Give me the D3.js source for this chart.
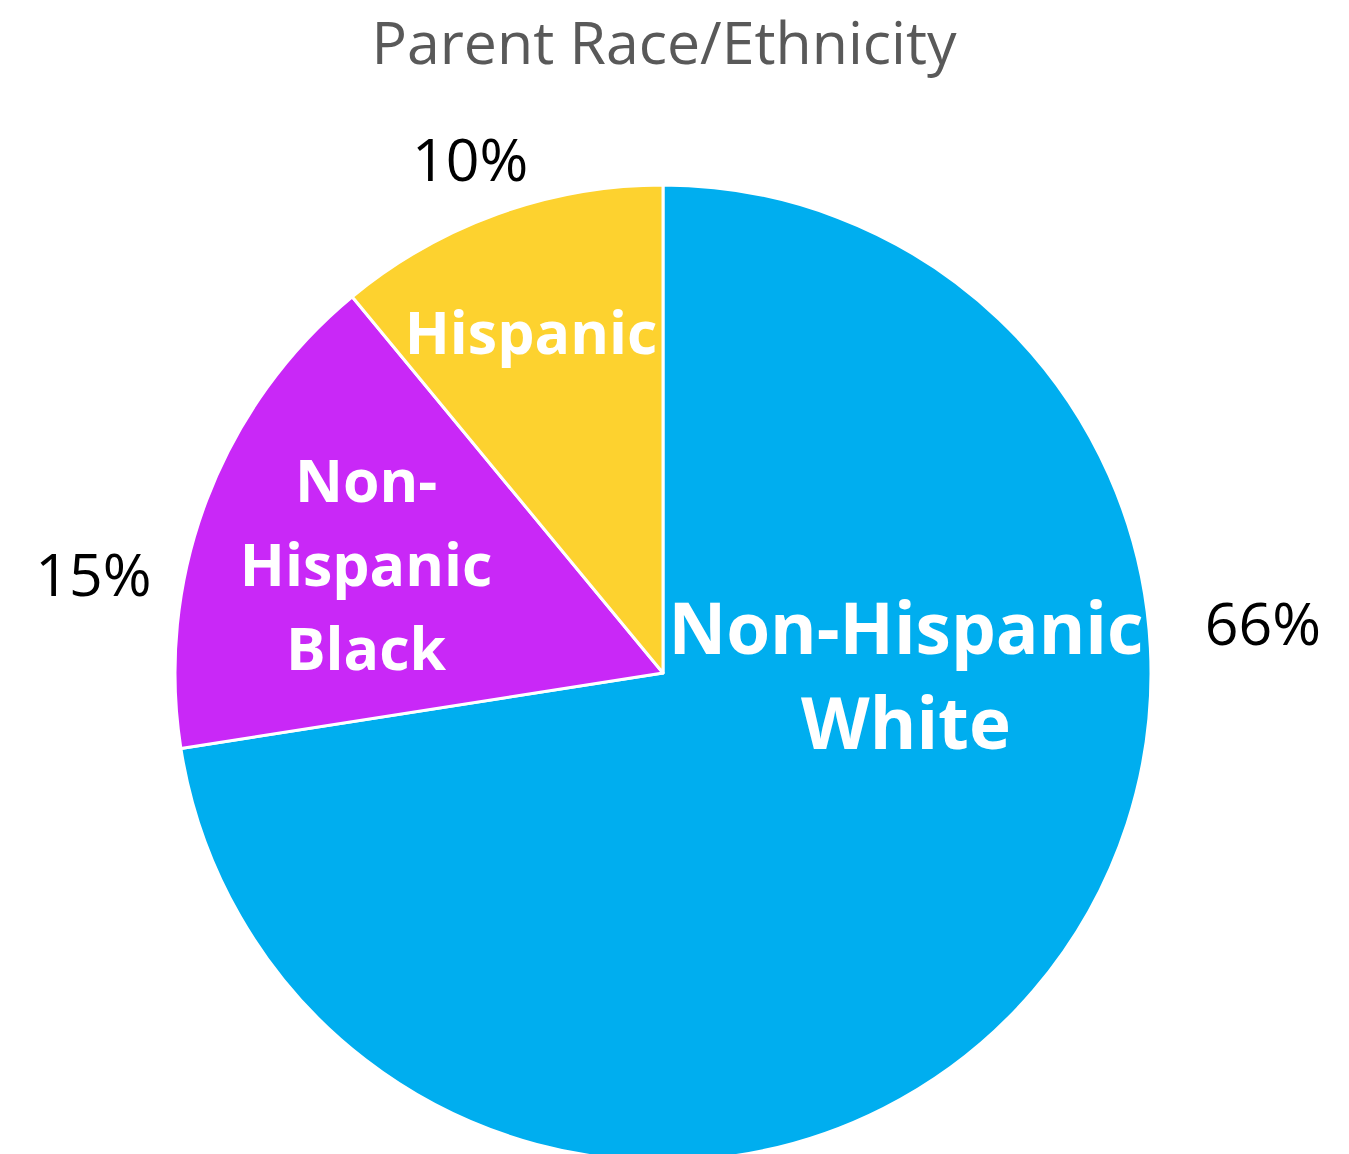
<!DOCTYPE html>
<html>
<head>
<meta charset="utf-8">
<script src="https://cdn.jsdelivr.net/npm/d3@7"></script>
<style>
  body { margin: 0; background: #fff; }
  text { font-family: "Open Sans", "Noto Sans", sans-serif; }
</style>
</head>
<body>
<svg id="pie"></svg>
<script>
// Chart data
const categories = ["Non-Hispanic White", "Non-Hispanic Black", "Hispanic"];
const values = [66, 15, 10];
const percentLabels = ["66%", "15%", "10%"];
const innerLines = [["Non-Hispanic", "White"], ["Non-", "Hispanic", "Black"], ["Hispanic"]];
const colors = ["#00AEEF", "#C928F7", "#FDD22F"];

// Page size and pie geometry
const width = 1349;
const height = 1154;
const cx = 663;
const cy = 673;
const radius = 488;

// Label placement (angle in degrees clockwise from 12 o'clock, distance from center)
const innerSpots = [
  { angle: 90.7, r: 243, size: 71, lh: 95 },
  { angle: 290, r: 316, size: 59, lh: 84 },
  { angle: 338.8, r: 365, size: 59, lh: 84 }
];
const outerSpots = [
  { angle: 85.3, r: 602 },
  { angle: 279.8, r: 578 },
  { angle: 339.4, r: 548 }
];

const svg = d3.select("#pie").attr("width", width).attr("height", height);

// Title
svg.append("text")
  .attr("x", 664)
  .attr("y", 64)
  .attr("text-anchor", "middle")
  .style("font-size", "59px")
  .style("fill", "#595959")
  .text("Parent Race/Ethnicity");

const g = svg.append("g").attr("transform", `translate(${cx},${cy})`);

const pie = d3.pie().sort(null).value((d) => d);
const arc = d3.arc().innerRadius(0).outerRadius(radius);
const arcs = pie(values);

// Slices
g.selectAll("path.slice")
  .data(arcs)
  .enter()
  .append("path")
  .attr("class", "slice")
  .attr("d", arc)
  .attr("fill", (d, i) => colors[i])
  .attr("stroke", "#fff")
  .attr("stroke-width", 3)
  .attr("stroke-linejoin", "round");

const rad = (deg) => (deg * Math.PI) / 180;

// Inner category labels (bold white, multi-line)
arcs.forEach((d, i) => {
  const s = innerSpots[i];
  const [x, y] = d3.pointRadial(rad(s.angle), s.r);
  const lines = innerLines[i];
  const cap = s.size * 0.72;
  const t = g.append("text")
    .attr("text-anchor", "middle")
    .style("font-size", s.size + "px")
    .style("font-weight", "bold")
    .style("fill", "#fff");
  lines.forEach((line, j) => {
    t.append("tspan")
      .attr("x", x)
      .attr("y", y + (j - (lines.length - 1) / 2) * s.lh + cap / 2)
      .text(line);
  });
});

// Outer percentage labels
arcs.forEach((d, i) => {
  const s = outerSpots[i];
  const [x, y] = d3.pointRadial(rad(s.angle), s.r);
  g.append("text")
    .attr("x", x)
    .attr("y", y + 59 * 0.72 / 2)
    .attr("text-anchor", "middle")
    .style("font-size", "59px")
    .style("fill", "#000")
    .text(percentLabels[i]);
});
</script>
</body>
</html>
